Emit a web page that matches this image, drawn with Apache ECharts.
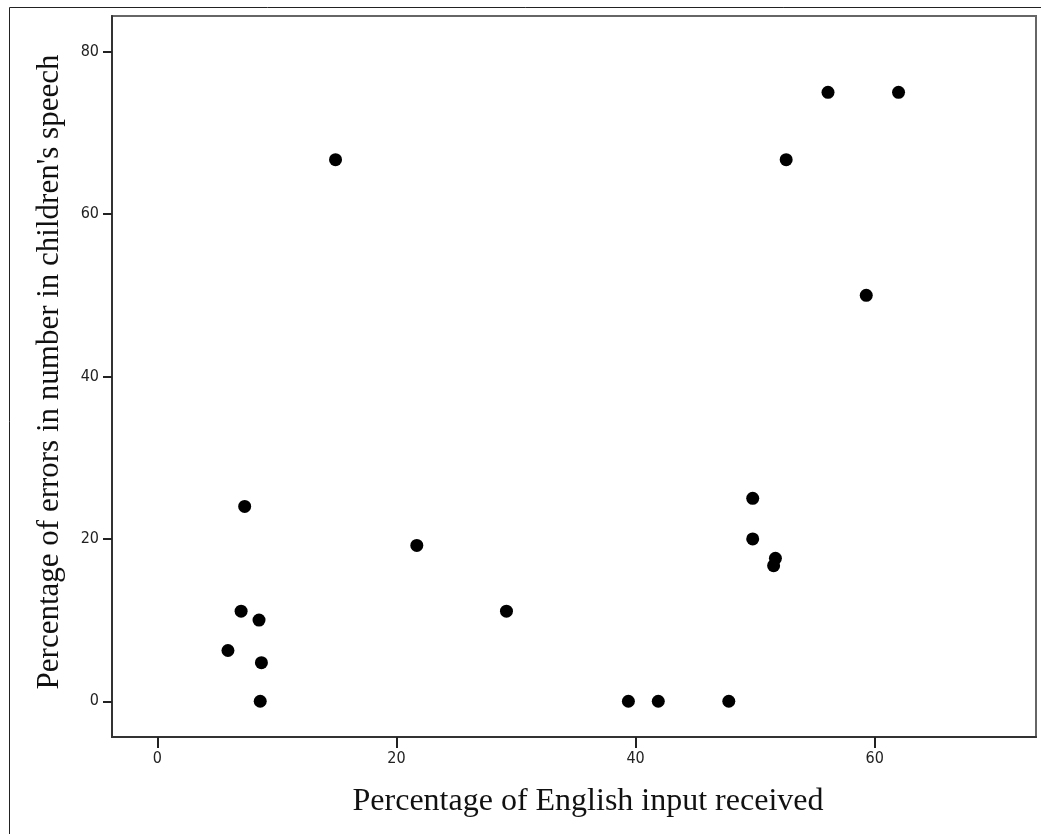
<!DOCTYPE html>
<html>
<head>
<meta charset="utf-8">
<script src="https://cdn.jsdelivr.net/npm/echarts@6/dist/echarts.min.js"></script>
<style>
html,body{margin:0;padding:0;background:#fff;}
#c{width:1041px;height:834px;}
</style>
</head>
<body>
<div id="c"></div>
<script>
// Percentage of English input received
const xValues = [14.9, 56.1, 62.0, 52.6, 59.3, 7.3, 21.7, 49.8, 49.8, 51.7, 51.55, 7.0, 29.2, 8.5, 5.9, 8.7, 8.6, 39.4, 41.9, 47.8];
// Percentage of errors in number in children's speech
const yValues = [66.7, 75.0, 75.0, 66.7, 50.0, 24.0, 19.2, 25.0, 20.0, 17.6, 16.7, 11.1, 11.1, 10.0, 6.25, 4.76, 0, 0, 0, 0];
const xTicks = [0, 20, 40, 60];
const yTicks = [0, 20, 40, 60, 80];
const xTitle = "Percentage of English input received";
const yTitle = "Percentage of errors in number in children's speech";

const points = xValues.map((x, i) => [x, yValues[i]]);
const chart = echarts.init(document.getElementById('c'), null, {renderer: 'canvas'});
const labelFont = '"Liberation Sans Narrow", "DejaVu Sans Condensed", "Liberation Sans", sans-serif';
chart.setOption({
  animation: false,
  backgroundColor: '#fff',
  grid: {left: 112, top: 16, right: 5, bottom: 97, show: true, borderColor: '#666', borderWidth: 2, backgroundColor: '#fff'},
  xAxis: {
    type: 'value', min: -3.8, max: 73.5,
    splitLine: {show: false},
    axisLine: {show: true, onZero: false, lineStyle: {color: '#333', width: 2}},
    axisTick: {show: true, length: 11, customValues: xTicks, lineStyle: {color: '#222', width: 2}},
    axisLabel: {customValues: xTicks, color: '#222', fontSize: 16, fontFamily: labelFont, margin: 14}
  },
  yAxis: {
    type: 'value', min: -4.4, max: 84.4,
    splitLine: {show: false},
    axisLine: {show: true, onZero: false, lineStyle: {color: '#333', width: 2}},
    axisTick: {show: true, length: 9, customValues: yTicks, lineStyle: {color: '#222', width: 2}},
    axisLabel: {customValues: yTicks, color: '#222', fontSize: 16, fontFamily: labelFont, margin: 13}
  },
  graphic: [
    {type: 'rect', x: 9.5, y: 7.5, shape: {x: 0, y: 0, width: 1040, height: 840}, style: {fill: 'none', stroke: '#222', lineWidth: 1}, silent: true, z: -10},
    {type: 'text', x: 588, y: 802, style: {text: xTitle, font: '32px "Liberation Serif", "DejaVu Serif", serif', fill: '#111', textAlign: 'center', textVerticalAlign: 'middle'}},
    {type: 'text', x: 50, y: 372, rotation: Math.PI / 2, style: {text: yTitle, font: '31px "Liberation Serif", "DejaVu Serif", serif', fill: '#111', textAlign: 'center', textVerticalAlign: 'middle'}}
  ],
  series: [{
    type: 'scatter',
    data: points,
    symbol: 'circle',
    symbolSize: 13,
    itemStyle: {color: '#000', opacity: 1}
  }]
});
</script>
</body>
</html>
